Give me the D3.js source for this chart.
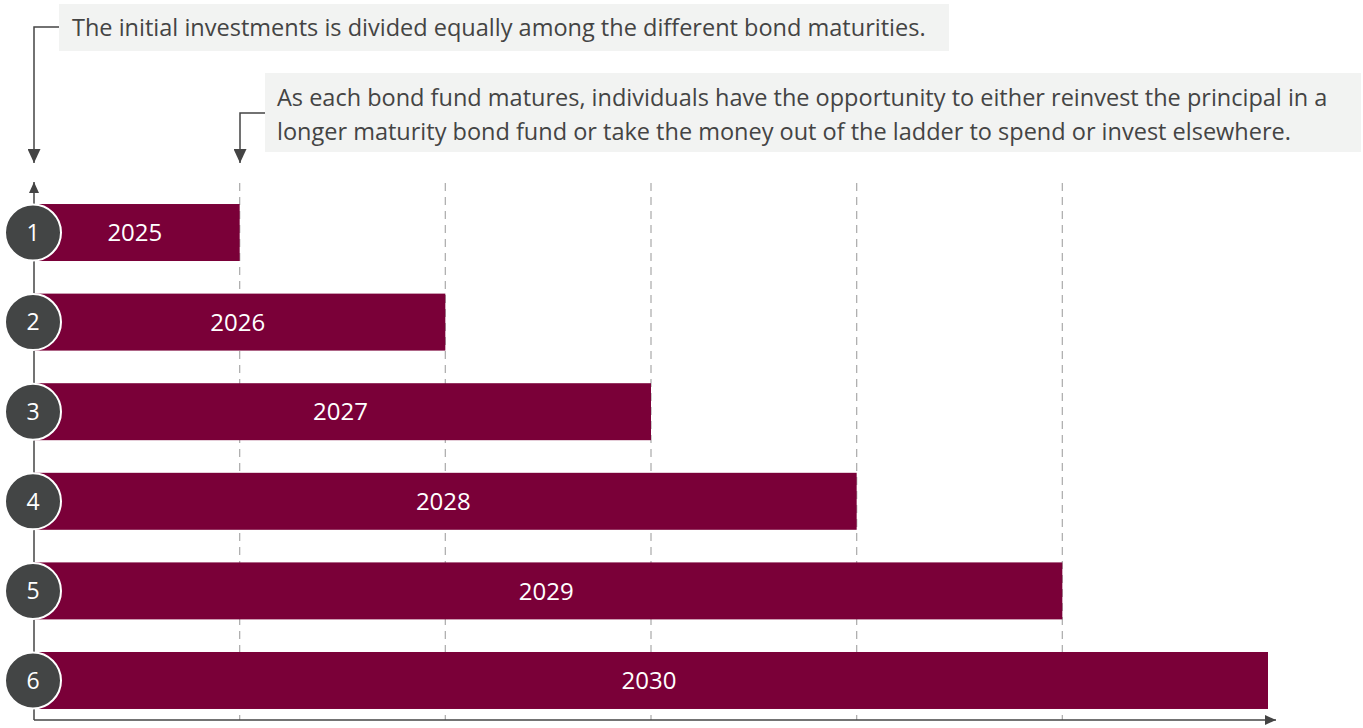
<!DOCTYPE html>
<html><head><meta charset="utf-8">
<script src="https://cdn.jsdelivr.net/npm/d3@7"></script>
<style>body{margin:0;background:#fff;}svg{display:block;font-family:"Open Sans",sans-serif;}</style>
</head><body>
<svg id="c" width="1363" height="728"></svg>
<script>
const rungs = ["1","2","3","4","5","6"];
const maturities = [2025, 2026, 2027, 2028, 2029, 2030];
const gridYears = [2025, 2026, 2027, 2028, 2029];
const note1 = ["The initial investments is divided equally among the different bond maturities."];
const note2 = ["As each bond fund matures, individuals have the opportunity to either reinvest the principal in a",
               "longer maturity bond fund or take the money out of the ladder to spend or invest elsewhere."];

const svg = d3.select("#c");
const x = d3.scaleLinear().domain([2024, 2030]).range([34, 1268]);
const y = d3.scaleBand().domain(rungs).range([186.1, 726.9]).paddingInner(0.364).paddingOuter(0.2);

const defs = svg.append("defs");
function marker(id, w, h){
  defs.append("marker").attr("id", id).attr("viewBox", `0 0 ${w} ${h}`)
    .attr("refX", w).attr("refY", h/2).attr("markerWidth", w).attr("markerHeight", h)
    .attr("markerUnits", "userSpaceOnUse").attr("orient", "auto")
    .append("path").attr("d", `M0,0L${w},${h/2}L0,${h}Z`).attr("fill", "#444");
}
marker("big", 14, 13);
marker("small", 11, 10);

// grid
svg.append("g").selectAll("line").data(gridYears).join("line")
  .attr("x1", d => x(d)).attr("x2", d => x(d)).attr("y1", 183).attr("y2", 720)
  .attr("stroke", "#b0b0b0").attr("stroke-width", 1.3).attr("stroke-dasharray", "8,6");

// axes
svg.append("line").attr("x1", 34).attr("y1", 720).attr("x2", 34).attr("y2", 182)
  .attr("stroke", "#444").attr("stroke-width", 1.5).attr("marker-end", "url(#small)");
svg.append("line").attr("x1", 34).attr("y1", 720).attr("x2", 1276).attr("y2", 720)
  .attr("stroke", "#444").attr("stroke-width", 1.5).attr("marker-end", "url(#small)");

// bars
const bars = svg.append("g");
bars.selectAll("rect").data(maturities).join("rect")
  .attr("x", x(2024)).attr("y", (d,i) => y(rungs[i]))
  .attr("width", d => x(d) - x(2024)).attr("height", y.bandwidth())
  .attr("fill", "#7a0038");
bars.selectAll("text").data(maturities).join("text")
  .attr("x", d => (x(d) + x(2024)) / 2 - 2).attr("y", (d,i) => y(rungs[i]) + y.bandwidth()/2)
  .attr("dy", "0.36em").attr("text-anchor", "middle").attr("fill", "#fff")
  .attr("font-size", 24).text(d => d);

// circles
const circ = svg.append("g");
circ.selectAll("circle").data(rungs).join("circle")
  .attr("cx", 33).attr("cy", d => y(d) + y.bandwidth()/2).attr("r", 28)
  .attr("fill", "#434545").attr("stroke", "#fff").attr("stroke-width", 2);
circ.selectAll("text").data(rungs).join("text")
  .attr("x", 33).attr("y", d => y(d) + y.bandwidth()/2).attr("dy", "0.36em")
  .attr("text-anchor", "middle").attr("fill", "#fff").attr("font-size", 23).text(d => d);

// annotations
function note(lines, bx, by, bw, bh, tx, ty0, lh, cy, ax, targetW){
  svg.append("rect").attr("x", bx).attr("y", by).attr("width", bw).attr("height", bh).attr("fill", "#f2f3f2");
  const t = svg.append("g").selectAll("text").data(lines).join("text")
    .attr("x", tx).attr("y", (d,i) => ty0 + i*lh).attr("fill", "#444").attr("font-size", 21).text(d => d);
  const w = t.node().getComputedTextLength();
  t.attr("font-size", 21 * targetW / w);
  svg.append("path").attr("d", `M${bx},${cy}H${ax}V163`).attr("fill", "none")
    .attr("stroke", "#444").attr("stroke-width", 1.5).attr("marker-end", "url(#big)");
}
note(note1, 59, 4, 890, 47, 72, 36, 0, 27, 34, 854);
note(note2, 265, 73, 1096, 79, 277, 106, 34, 113, 240, 1051);
</script>
</body></html>
